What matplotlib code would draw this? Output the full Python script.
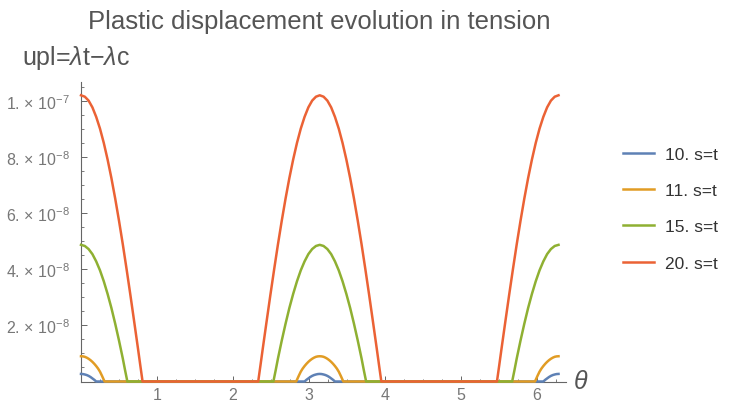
import numpy as np
import matplotlib.pyplot as plt
from matplotlib.ticker import MultipleLocator

plt.rcParams['font.family'] = ['Liberation Sans', 'DejaVu Sans']
plt.rcParams['mathtext.fontset'] = 'custom'
plt.rcParams['mathtext.rm'] = 'Liberation Sans'
plt.rcParams['mathtext.it'] = 'Liberation Sans:italic'

# series as in the legend
labels = ['10. s=t', '11. s=t', '15. s=t', '20. s=t']
colors = ['#5E81B5', '#E19C24', '#8FB032', '#EB6235']

# half-lobe profiles:
# offset from a lobe centre (theta = 0, pi, 2pi) -> upl in units of 1e-8
blue_d = [0, 0.025, 0.05, 0.075, 0.10, 0.125, 0.15, 0.175, 0.20]
blue_v = [0.27, 0.265, 0.25, 0.23, 0.20, 0.16, 0.11, 0.06, 0.0]

orange_d = [0, 0.025, 0.05, 0.075, 0.10, 0.125, 0.15, 0.175, 0.20,
            0.225, 0.25, 0.275, 0.30, 0.31]
orange_v = [0.90, 0.895, 0.88, 0.85, 0.81, 0.76, 0.70, 0.63, 0.55,
            0.46, 0.35, 0.21, 0.06, 0.0]

green_d = [0, 0.05, 0.10, 0.15, 0.20, 0.25, 0.30, 0.35, 0.40,
           0.45, 0.50, 0.55, 0.58, 0.61]
green_v = [4.87, 4.83, 4.72, 4.54, 4.28, 3.96, 3.57, 3.12, 2.62,
           2.06, 1.46, 0.82, 0.40, 0.0]

red_d = [0, 0.05, 0.10, 0.15, 0.20, 0.25, 0.30, 0.35, 0.40,
         0.45, 0.50, 0.55, 0.60, 0.65, 0.70, 0.75, 0.78, 0.81]
red_v = [10.20, 10.15, 10.01, 9.77, 9.43, 9.01, 8.50, 7.91, 7.25,
         6.52, 5.73, 4.89, 4.00, 3.08, 2.13, 1.17, 0.58, 0.0]

profiles = [(blue_d, blue_v), (orange_d, orange_v), (green_d, green_v), (red_d, red_v)]

yticks = [2e-8, 4e-8, 6e-8, 8e-8, 1e-7]
ytick_labels = [r'2. × 10$^{-8}$', r'4. × 10$^{-8}$', r'6. × 10$^{-8}$',
                r'8. × 10$^{-8}$', r'1. × 10$^{-7}$']
xticks = [1, 2, 3, 4, 5, 6]


def lobes(d, v):
    """Place the half-lobe at theta = 0, pi and 2pi (curve is periodic)."""
    d = np.asarray(d)
    v = np.asarray(v) * 1e-8
    th = np.concatenate([d, np.pi - d[::-1], np.pi + d, 2 * np.pi - d[::-1]])
    val = np.concatenate([v, v[::-1], v, v[::-1]])
    return th, val


W, H = 729, 402
fig = plt.figure(figsize=(W / 100, H / 100), dpi=100)
x0, y0 = 81, 382.5          # pixel position of the origin
px_x, px_y = 76.0, 280.6e7  # pixels per unit
xmax, ymax = 6.38, 1.067e-7
ax = fig.add_axes([x0 / W, (H - y0) / H, xmax * px_x / W, ymax * px_y / H])

for (d, v), c, lab in zip(profiles, colors, labels):
    th, val = lobes(d, v)
    ax.plot(th, val, color=c, lw=1.8, label=lab, clip_on=False, zorder=3,
            solid_joinstyle='round')

ax.set_xlim(0, xmax)
ax.set_ylim(0, ymax)
for s in ['top', 'right']:
    ax.spines[s].set_visible(False)
for s in ['left', 'bottom']:
    ax.spines[s].set_color('#666666')
    ax.spines[s].set_linewidth(0.8)

ax.set_xticks(xticks)
ax.set_xticklabels([str(t) for t in xticks])
ax.xaxis.set_minor_locator(MultipleLocator(0.25))
ax.set_yticks(yticks)
ax.set_yticklabels(ytick_labels)
ax.yaxis.set_minor_locator(MultipleLocator(0.5e-8))
ax.tick_params(which='both', direction='in', colors='#666666', labelcolor='#777777')
ax.tick_params(which='major', length=4, width=0.7, labelsize=11.5)
ax.tick_params(which='minor', length=2, width=0.6)
ax.tick_params(axis='x', pad=4)
ax.tick_params(axis='y', pad=8)

fig.text(319 / W, 1 - 22 / H, 'Plastic displacement evolution in tension',
         ha='center', va='center', fontsize=18.5, color='#555555')
fig.text(22 / W, 1 - 58 / H, r'upl=$\mathit{\lambda}$t$-\mathit{\lambda}$c',
         ha='left', va='center', fontsize=18, color='#555555')
fig.text(573 / W, 1 - 382 / H, r'$\mathit{\theta}$',
         ha='left', va='center', fontsize=18, color='#555555')

fig.legend(loc='upper left', bbox_to_anchor=(607 / W, 1 - 132 / H), frameon=False,
           handlelength=1.8, handletextpad=0.65, labelspacing=1.22, fontsize=12.5,
           labelcolor='#333333')

fig.savefig('out.png', dpi=100)
